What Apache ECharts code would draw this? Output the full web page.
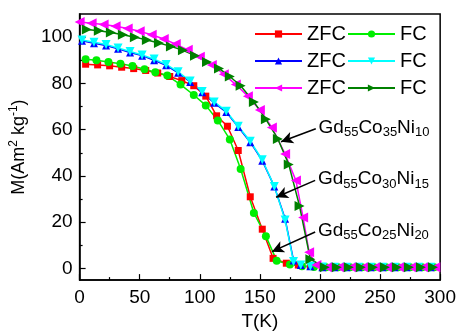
<!DOCTYPE html>
<html><head><meta charset="utf-8">
<script src="https://cdn.jsdelivr.net/npm/echarts@6/dist/echarts.min.js"></script>
<style>html,body{margin:0;padding:0;background:#fff}#c{width:459px;height:336px}</style>
</head><body><div id="c"></div>
<script>
// ---- data ----
const xTicks = [0, 50, 100, 150, 200, 250, 300];
const yTickLabels = [0, 20, 40, 60, 80, 100];
const yMinorTicks = [10, 30, 50, 70, 90];

// Gd55Co25Ni20
const tA_ZFC = [5,15,25,35,45,55,65,75,85,95,105,114,123,132,142,152,161,172,182,192,202,212,222,232,242,252,262,272,282,292];
const mA_ZFC = [88.3,88,87.6,87,86.4,85.6,84.5,83,81.2,79,74.5,66,61.5,51,31,17,4.4,2.3,1.5,1,0.8,0.6,0.5,0.5,0.5,0.5,0.5,0.5,0.5,0.5];
const tA_FC = [5,14,24,34,44,54,63,73,84,95,105,115,125,134,145,155,164,175,185,195,205,215,225,235,245,255,265,275,285,295];
const mA_FC = [90.4,90,89.3,88.5,87.5,86.1,84.8,83.4,79.5,75,70.5,64,55.8,43,24,14,3.4,1.7,1,0.7,0.5,0.5,0.5,0.5,0.5,0.5,0.5,0.5,0.5,0.5];

// Gd55Co30Ni15
const tB = [2,12,22,32,42,52,62,72,82,92,102,112,122,132,142,152,162,171,178,184,192,202,212,222,232,242,252,262,272,282,292];
const mB_ZFC = [98.4,97.4,96.4,95,93.4,92,90,87.8,84.6,80.6,76.2,71.6,67.6,61.2,54.6,46.6,35.5,21.5,3.5,1.5,1,0.6,0.5,0.5,0.5,0.5,0.5,0.5,0.5,0.5,0.5];
const mB_FC = [98.8,97.8,96.8,95.3,93.8,92.3,90.5,88.2,85,81,76.5,72,68,61.5,55,47,35.5,21,3,1.5,1,0.7,0.5,0.5,0.5,0.5,0.5,0.5,0.5,0.5,0.5];

// Gd55Co35Ni10
const tC_ZFC = [0,10,20,30,40,50,60,70,80,90,100,110,120,130,140,150,160,171,180,186,191,197,206,216,226,236,246,256,266,276,286,296];
const mC_ZFC = [106.5,106,105.5,104.7,103.7,102.5,101,99.2,97,94.5,91.5,88,84,79.5,74.5,68.5,61,49.5,38,22,7,1.5,0.6,0.5,0.5,0.5,0.5,0.5,0.5,0.5,0.5,0.5];
const tC_FC = [6,16,26,36,46,56,66,76,86,96,106,116,125,134,145,155,165,174,183,192,204,214,224,234,244,254,264,274,284,294];
const mC_FC = [103.3,102.8,102,101,100,98.8,97.5,96,94.3,92,89.3,86.5,83,79,72,64.5,56,45,27,4,0.5,0.5,0.5,0.5,0.5,0.5,0.5,0.5,0.5,0.5];

// annotation arrows: [tail T, tail M, head T, head M]
const arrowA = [196, 15.8, 160, 7.3];
const arrowB = [196, 38.1, 163.5, 30.8];
const arrowC = [196.5, 60.4, 167.6, 54.8];

// ---- chart ----
const FONT = 'Liberation Sans, Arial, Helvetica, sans-serif';
const pair = (t, m) => t.map((v, i) => [v, m[i]]);
const TRI_DOWN = 'path://M0,0 L10,0 L5,9 Z';
const TRI_LEFT = 'path://M10,0 L10,10 L1,5 Z';
const TRI_RIGHT = 'path://M0,0 L9,5 L0,10 Z';

function mkArrow(a, co, ni) {
  return {
    silent: true,
    symbol: ['none', 'arrow'],
    symbolSize: [9, 12],
    animation: false,
    lineStyle: {color: '#000', width: 1.6, type: 'solid'},
    label: {
      show: true, position: 'start', distance: 3,
      color: '#000', fontFamily: FONT, fontSize: 19,
      formatter: () => 'Gd{s|55}Co{s|' + co + '}Ni{s|' + ni + '}',
      rich: {s: {fontSize: 13, fontFamily: FONT, color: '#000', verticalAlign: 'bottom', padding: [10, 0, 0, 0]}}
    },
    emphasis: {disabled: true},
    data: [[{coord: [a[0], a[1]]}, {coord: [a[2], a[3]]}]]
  };
}

function mkSeries(name, data, color, symbol, size, extra) {
  return Object.assign({
    name, type: 'line', data, color,
    symbol, symbolSize: size, showSymbol: true,
    lineStyle: {width: 1.5, color},
    itemStyle: {color},
    animation: false, clip: true,
    emphasis: {disabled: true}
  }, extra || {});
}

const series = [
  mkSeries('ZFC Gd55Co25Ni20', pair(tA_ZFC, mA_ZFC), '#ff0000', 'rect', 7),
  mkSeries('FC Gd55Co25Ni20', pair(tA_FC, mA_FC), '#00ee00', 'circle', 8, {markLine: mkArrow(arrowA, 25, 20)}),
  mkSeries('ZFC Gd55Co30Ni15', pair(tB, mB_ZFC), '#0000ff', 'triangle', 8),
  mkSeries('FC Gd55Co30Ni15', pair(tB, mB_FC), '#00ffff', TRI_DOWN, 9, {markLine: mkArrow(arrowB, 30, 15)}),
  mkSeries('ZFC Gd55Co35Ni10', pair(tC_ZFC, mC_ZFC), '#ff00ff', TRI_LEFT, 10),
  mkSeries('FC Gd55Co35Ni10', pair(tC_FC, mC_FC), '#008000', TRI_RIGHT, 10, {markLine: mkArrow(arrowC, 35, 10)})
];

const legendBase = {
  orient: 'vertical', top: 24, itemWidth: 47, itemHeight: 9, itemGap: 7, padding: 0,
  selectedMode: false,
  textStyle: {fontSize: 20, fontFamily: FONT, color: '#000', lineHeight: 20},
  formatter: n => n.split(' ')[0]
};

const option = {
  backgroundColor: '#fff',
  animation: false,
  grid: {left: 79, right: 18, top: 14, bottom: 51, show: true, borderColor: '#000', borderWidth: 1.5, containLabel: false},
  legend: [
    Object.assign({}, legendBase, {left: 254, data: series.filter((s, i) => i % 2 === 0).map(s => s.name)}),
    Object.assign({}, legendBase, {left: 347, data: series.filter((s, i) => i % 2 === 1).map(s => s.name)})
  ],
  xAxis: {
    type: 'value', min: xTicks[0], max: xTicks[xTicks.length - 1], interval: 50,
    name: 'T(K)', nameLocation: 'middle', nameGap: 23,
    nameTextStyle: {fontSize: 19, fontFamily: FONT, color: '#000'},
    axisLine: {show: true, onZero: false, lineStyle: {color: '#000', width: 1.5}},
    axisTick: {show: true, inside: true, length: 6, lineStyle: {color: '#000', width: 1.2}},
    minorTick: {show: true, splitNumber: 2, length: 3, lineStyle: {color: '#000', width: 1.2}},
    axisLabel: {fontSize: 19, fontFamily: FONT, color: '#000', margin: 8},
    splitLine: {show: false}
  },
  yAxis: [{
    type: 'value', min: -5, max: 110,
    name: 'M(Am{s|2} kg{s|-1})', nameLocation: 'middle', nameGap: 41, nameRotate: 90,
    nameTextStyle: {fontSize: 18, fontFamily: FONT, color: '#000', lineHeight: 22,
      rich: {s: {fontSize: 12, fontFamily: FONT, color: '#000', verticalAlign: 'top', lineHeight: 12}}},
    axisLine: {show: true, onZero: false, lineStyle: {color: '#000', width: 1.5}},
    axisTick: {show: true, inside: true, length: 6, customValues: yTickLabels, lineStyle: {color: '#000', width: 1.2}},
    axisLabel: {fontSize: 19, fontFamily: FONT, color: '#000', margin: 7, customValues: yTickLabels},
    splitLine: {show: false}
  }, {
    type: 'value', min: -5, max: 110, position: 'left',
    axisLine: {show: false},
    axisTick: {show: true, inside: true, length: 3, customValues: yMinorTicks, lineStyle: {color: '#000', width: 1.2}},
    axisLabel: {show: false, customValues: yMinorTicks},
    splitLine: {show: false}
  }],
  series
};

const chart = echarts.init(document.getElementById('c'), null, {renderer: 'canvas'});
chart.setOption(option);
</script></body></html>
